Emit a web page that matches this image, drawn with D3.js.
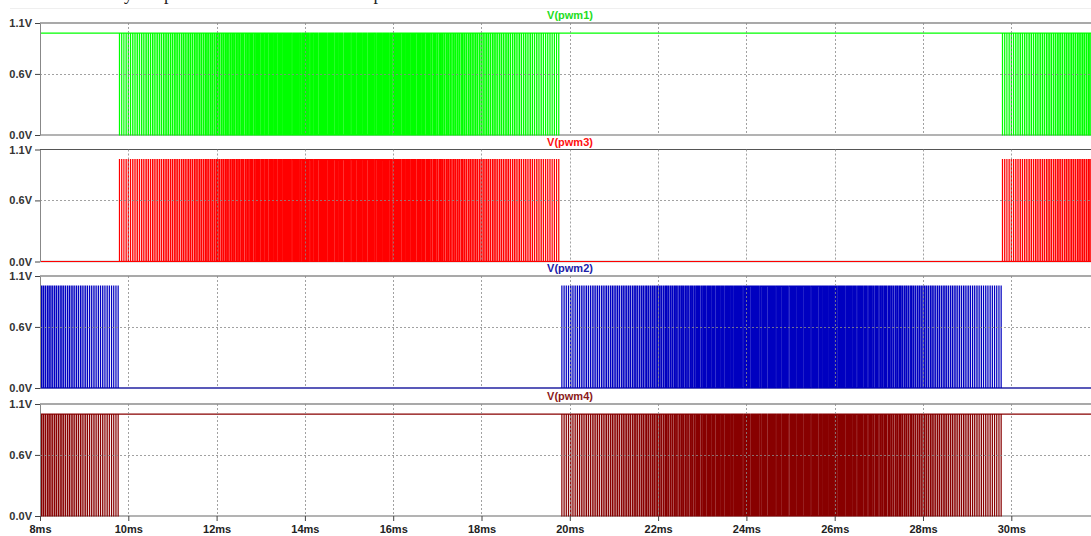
<!DOCTYPE html>
<html>
<head>
<meta charset="utf-8">
<title>PWM gate signals</title>
<script src="https://cdnjs.cloudflare.com/ajax/libs/d3/7.8.5/d3.min.js"></script>
<style>
body { margin: 0; background: #fff; }
svg { display: block; }
</style>
</head>
<body>
<div id="chart"></div>
<script>

// ---- data ----
var tickMs = [8, 10, 12, 14, 16, 18, 20, 22, 24, 26, 28, 30];
var voltTicks = [0.0, 0.6, 1.1];
var gridVolts = [0.6];
var names = ["pwm1", "pwm3", "pwm2", "pwm4"];
var highLevel = 1.0;
var carrierMs = 0.05;           // 20 kHz carrier
var burstA = [9.80, 29.80];     // pwm1 / pwm3 switching half cycles (start, ms)
var burstB = [-0.18, 19.82];    // pwm2 / pwm4 switching half cycles (start, ms)

// duty (%) of pwm3 in each carrier period of a half cycle (pwm1 is its complement)
var dutyA = [
  2, 3, 1, 5, 6, 4, 8, 7, 10, 9, 12, 8, 14, 11, 13, 16, 12, 15, 18, 14,
  17, 20, 16, 22, 19, 24, 21, 18, 26, 23, 20, 27, 25, 22, 29, 24, 31, 26, 28, 33,
  27, 35, 30, 32, 38, 29, 36, 33, 40, 31, 37, 42, 34, 39, 36, 44, 32, 41, 38, 45,
  36, 43, 47, 39, 50, 41, 46, 38, 52, 44, 48, 40, 55, 43, 49, 46, 53, 42, 57, 45,
  51, 44, 58, 47, 53, 49, 60, 42, 55, 50, 62, 46, 54, 48, 59, 52, 45, 61, 50, 56,
  47, 63, 51, 55, 44, 58, 49, 60, 53, 46, 57, 50, 62, 48, 54, 43, 59, 51, 47, 56,
  45, 52, 58, 41, 50, 47, 55, 39, 53, 44, 49, 42, 51, 46, 38, 48, 43, 50, 37, 45,
  41, 36, 47, 39, 34, 44, 37, 32, 42, 35, 30, 39, 33, 37, 28, 35, 31, 26, 34, 29,
  27, 32, 24, 30, 26, 21, 28, 23, 19, 25, 22, 17, 24, 20, 15, 21, 18, 13, 19, 16,
  12, 17, 10, 14, 11, 8, 13, 9, 7, 10, 6, 8, 5, 6, 3, 5, 2, 3, 1, 2
];

// duty (%) of pwm2 in each carrier period of a half cycle (pwm4 is its complement)
var dutyB = [
  1, 3, 2, 4, 7, 5, 6, 9, 8, 11, 7, 13, 10, 9, 14, 12, 16, 11, 15, 13,
  18, 15, 21, 17, 19, 23, 16, 25, 20, 22, 27, 19, 24, 28, 21, 26, 30, 23, 32, 27,
  29, 34, 25, 31, 36, 28, 33, 39, 30, 35, 32, 41, 29, 37, 43, 34, 38, 31, 44, 36,
  40, 46, 35, 42, 48, 38, 45, 41, 51, 37, 47, 43, 53, 39, 49, 44, 56, 42, 50, 46,
  54, 43, 58, 48, 45, 61, 50, 47, 55, 41, 59, 52, 46, 63, 49, 53, 44, 57, 51, 60,
  48, 55, 42, 62, 50, 46, 58, 53, 45, 60, 49, 54, 43, 57, 52, 47, 61, 45, 56, 50,
  44, 53, 48, 57, 41, 51, 46, 55, 39, 49, 52, 43, 47, 38, 54, 45, 40, 50, 36, 46,
  42, 37, 48, 34, 43, 39, 45, 33, 40, 36, 31, 41, 35, 38, 29, 36, 32, 27, 34, 30,
  26, 31, 28, 23, 29, 25, 21, 27, 22, 19, 24, 20, 17, 22, 18, 15, 20, 14, 17, 12,
  15, 11, 13, 9, 12, 8, 10, 6, 9, 5, 7, 4, 6, 3, 5, 2, 3, 1, 2, 1
];

var pageText = "are driven by the pulses from the controller as presented";

// ---- layout ----
var width = 1091, height = 536;
var left = 40, right = 1100;
var tops = [23, 149.5, 276, 404];
var panelH = 112;
var colors = { pwm1: "#00ff00", pwm3: "#ff0000", pwm2: "#0000c0", pwm4: "#880000" };
var titleColors = { pwm1: "#22dd22", pwm3: "#ff1010", pwm2: "#2020a8", pwm4: "#8b1a1a" };

var x = d3.scaleLinear().domain([8, 32]).range([left, left + 24 * 44.15]);

// waveform points for a signal: base level outside bursts, pulses inside
function wave(starts, duty, base) {
  var pts = [[-1, base * highLevel]];
  starts.forEach(function(s) {
    duty.forEach(function(d, k) {
      var r = s + k * carrierMs;
      var f = r + d / 100 * carrierMs;
      pts.push([r, base * highLevel]);
      pts.push([r, (1 - base) * highLevel]);
      pts.push([f, (1 - base) * highLevel]);
      pts.push([f, base * highLevel]);
    });
  });
  pts.push([40, base * highLevel]);
  return pts;
}

var waves = {
  pwm1: wave(burstA, dutyA, 1),
  pwm3: wave(burstA, dutyA, 0),
  pwm2: wave(burstB, dutyB, 0),
  pwm4: wave(burstB, dutyB, 1)
};

var svg = d3.select("#chart").append("svg")
  .attr("width", width)
  .attr("height", height);

// remnant of the document text above the figure
svg.append("line")
  .attr("x1", 10).attr("x2", width)
  .attr("y1", 8.5).attr("y2", 8.5)
  .attr("stroke", "#efefef");

svg.append("text")
  .attr("x", 38)
  .attr("y", 0)
  .style("font-family", "'Liberation Serif', serif")
  .style("font-size", "18px")
  .attr("fill", "#222")
  .text(pageText);

var defs = svg.append("defs");

names.forEach(function(name, i) {
  var top = tops[i], bot = top + panelH;
  var y = d3.scaleLinear().domain([0, 1.1]).range([bot, top]);
  var g = svg.append("g");

  defs.append("clipPath").attr("id", "clip" + i)
    .append("rect")
    .attr("x", left).attr("y", top - 1)
    .attr("width", right - left).attr("height", panelH + 2);

  // frame
  g.append("line")
    .attr("x1", left).attr("x2", right)
    .attr("y1", bot).attr("y2", bot)
    .attr("stroke", "#9a9a9a").attr("stroke-width", 1.5);
  g.append("line")
    .attr("x1", left).attr("x2", right)
    .attr("y1", top).attr("y2", top)
    .attr("stroke", "#555").attr("stroke-width", 1.2);

  // trace
  var line = d3.line()
    .x(function(d) { return x(d[0]); })
    .y(function(d) { return y(d[1]); });

  g.append("path")
    .datum(waves[name])
    .attr("clip-path", "url(#clip" + i + ")")
    .attr("fill", "none")
    .attr("stroke", colors[name])
    .attr("stroke-width", 1.2)
    .attr("d", line);

  // dotted grid on top
  g.selectAll(".vgrid")
    .data(tickMs.filter(function(d) { return d > 8; }))
    .enter().append("line")
    .attr("x1", function(d) { return Math.round(x(d)) + 0.5; })
    .attr("x2", function(d) { return Math.round(x(d)) + 0.5; })
    .attr("y1", top).attr("y2", bot)
    .attr("stroke", "#8a8a8a")
    .attr("stroke-opacity", 0.8)
    .attr("stroke-dasharray", "2,2");

  g.selectAll(".hgrid")
    .data(gridVolts)
    .enter().append("line")
    .attr("x1", left).attr("x2", right)
    .attr("y1", function(d) { return Math.round(y(d)) + 0.5; })
    .attr("y2", function(d) { return Math.round(y(d)) + 0.5; })
    .attr("stroke", "#8a8a8a")
    .attr("stroke-opacity", 0.8)
    .attr("stroke-dasharray", "2,2");

  // y axis
  var ya = g.append("g")
    .attr("transform", "translate(" + left + ",0)")
    .call(d3.axisLeft(y)
      .tickValues(voltTicks)
      .tickFormat(function(d) { return d.toFixed(1) + "V"; })
      .tickSize(5)
      .tickSizeOuter(0));
  ya.select(".domain").attr("stroke", "#888");
  ya.selectAll(".tick line").attr("stroke", "#444");
  ya.selectAll(".tick text")
    .attr("fill", "#333")
    .style("font-family", "'Liberation Sans', Arial, sans-serif")
    .style("font-size", "11px")
    .style("font-weight", "bold");

  // title
  svg.append("text")
    .attr("x", 570)
    .attr("y", top - 4)
    .attr("text-anchor", "middle")
    .style("font-family", "'Liberation Sans', Arial, sans-serif")
    .style("font-size", "11px")
    .style("font-weight", "bold")
    .attr("fill", titleColors[name])
    .text("V(" + name + ")");

  // x axis only under the last panel
  if (i == names.length - 1) {
    var xa = g.append("g")
      .attr("transform", "translate(0," + bot + ")")
      .call(d3.axisBottom(x)
        .tickValues(tickMs)
        .tickFormat(function(d) { return d + "ms"; })
        .tickSize(5)
        .tickPadding(4)
        .tickSizeOuter(0));
    xa.select(".domain").remove();
    xa.selectAll(".tick line").attr("stroke", "#444");
    xa.selectAll(".tick text")
      .attr("fill", "#222")
      .style("font-family", "'Liberation Sans', Arial, sans-serif")
      .style("font-size", "11px")
      .style("font-weight", "bold");
  }
});

</script>
</body>
</html>
